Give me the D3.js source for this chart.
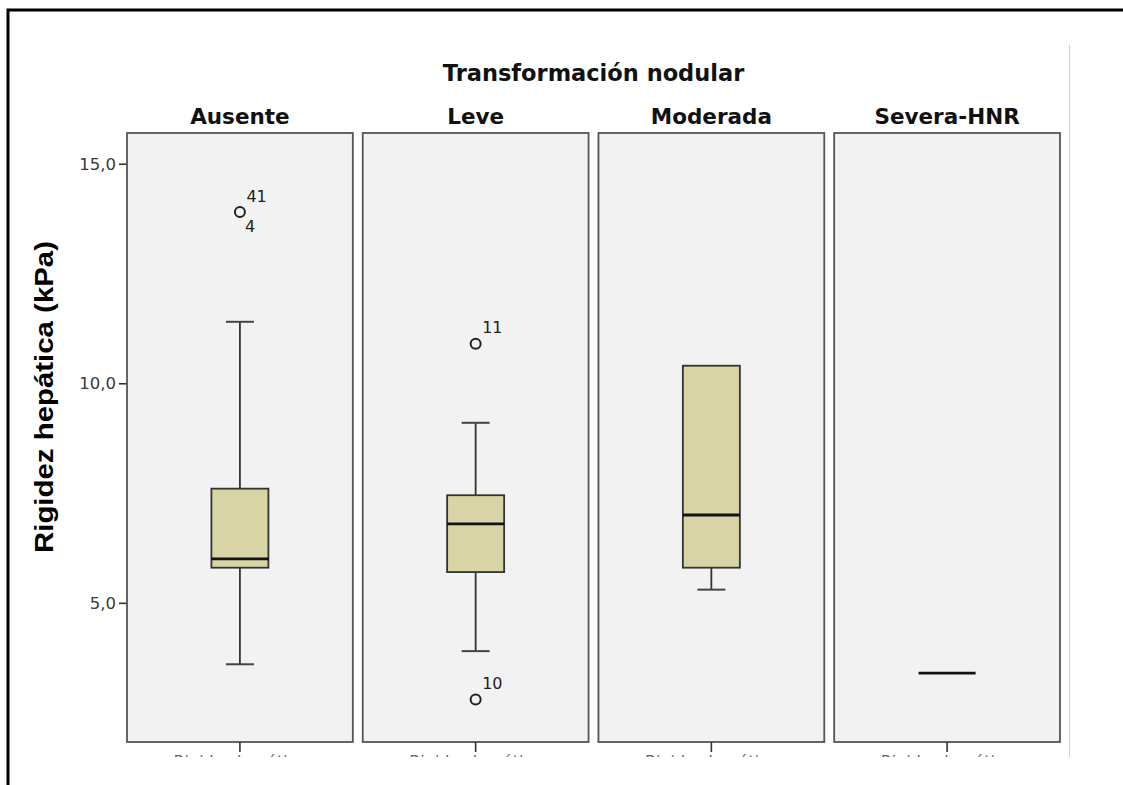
<!DOCTYPE html>
<html>
<head>
<meta charset="utf-8">
<script src="https://cdn.jsdelivr.net/npm/d3@7"></script>
<style>
  html, body { margin: 0; padding: 0; background: #fff; }
  svg { display: block; }
</style>
</head>
<body>
<svg id="chart" width="1123" height="785"></svg>
<script>
// Liver stiffness by degree of nodular transformation
const categories = ["Ausente", "Leve", "Moderada", "Severa-HNR"];
const whiskerLow  = [3.6, 3.9, 5.3, 3.4];
const q1          = [5.8, 5.7, 5.8, 3.4];
const median      = [6.0, 6.8, 7.0, 3.4];
const q3          = [7.6, 7.45, 10.4, 3.4];
const whiskerHigh = [11.4, 9.1, 10.4, 3.4];
// outliers: panel, value, case labels
const outlierPanel = ["Ausente", "Leve", "Leve"];
const outlierValue = [13.9, 10.9, 2.8];
const outlierLabelAbove = ["41", "11", "10"];
const outlierLabelBelow = ["4", "", ""];
const yTicks = [5, 10, 15];

const svg = d3.select("#chart");
const W = 1123, H = 785;

const panelTop = 133, panelBottom = 742;
const x = d3.scaleBand().domain(categories).range([127, 1060]).paddingInner(0.042);
const y = d3.scaleLinear().domain([1.83, 15.7]).range([panelBottom, panelTop]);
const fmt = v => d3.format(".1f")(v).replace(".", ",");

// outer frame
svg.append("path")
  .attr("d", `M8,${H} L8,10 L${W},10`)
  .attr("fill", "none").attr("stroke", "#000").attr("stroke-width", 3);

// thin separator on the right
svg.append("line")
  .attr("x1", 1069.5).attr("x2", 1069.5).attr("y1", 45).attr("y2", 757)
  .attr("stroke", "#cfcfcf").attr("stroke-width", 1);

// chart title
svg.append("text")
  .attr("x", (x.range()[0] + x.range()[1]) / 2).attr("y", 81)
  .attr("text-anchor", "middle")
  .attr("font-family", "DejaVu Sans").attr("font-weight", "bold").attr("font-size", 22.5)
  .attr("fill", "#111")
  .text("Transformación nodular");

// y axis title
svg.append("text")
  .attr("transform", `translate(53,397) rotate(-90)`)
  .attr("text-anchor", "middle")
  .attr("font-family", "Liberation Sans, Arial").attr("font-weight", "bold").attr("font-size", 25)
  .attr("textLength", 312).attr("lengthAdjust", "spacingAndGlyphs")
  .attr("fill", "#000")
  .text("Rigidez hepática (kPa)");

// y axis (ticks on the left panel)
const yAxis = svg.append("g")
  .attr("transform", `translate(${x.range()[0]},0)`)
  .call(d3.axisLeft(y).tickValues(yTicks).tickFormat(fmt).tickSize(8).tickPadding(3));
yAxis.select(".domain").remove();
yAxis.selectAll(".tick line").attr("stroke", "#333").attr("stroke-width", 1.6);
yAxis.selectAll(".tick text")
  .attr("font-family", "DejaVu Sans").attr("font-size", 16.5).attr("fill", "#3a3a3a");

// clip region for the truncated category labels beneath panels
svg.append("defs").append("clipPath").attr("id", "bottomClip")
  .append("rect").attr("x", 0).attr("y", 743).attr("width", W).attr("height", 14);

const bw = x.bandwidth();
const boxW = 57, capW = 28;

categories.forEach((c, i) => {
  const x0 = x(c), cx = x0 + bw / 2;
  const g = svg.append("g");

  // panel title
  g.append("text")
    .attr("x", cx).attr("y", 124)
    .attr("text-anchor", "middle")
    .attr("font-family", "DejaVu Sans").attr("font-weight", "bold").attr("font-size", 21.5)
    .attr("fill", "#111")
    .text(c);

  // panel background
  g.append("rect")
    .attr("x", x0).attr("y", panelTop).attr("width", bw).attr("height", panelBottom - panelTop)
    .attr("fill", "#f2f2f2").attr("stroke", "#555").attr("stroke-width", 1.8);

  // bottom tick and clipped category label
  g.append("line")
    .attr("x1", cx).attr("x2", cx).attr("y1", panelBottom).attr("y2", 752)
    .attr("stroke", "#333").attr("stroke-width", 1.6);
  g.append("text")
    .attr("clip-path", "url(#bottomClip)")
    .attr("x", cx).attr("y", 767)
    .attr("text-anchor", "middle")
    .attr("font-family", "DejaVu Sans").attr("font-size", 16).attr("fill", "#666")
    .text("Rigidez hepática");

  const same = q1[i] === q3[i] && whiskerLow[i] === whiskerHigh[i];
  if (same) {
    g.append("line")
      .attr("x1", cx - boxW / 2).attr("x2", cx + boxW / 2)
      .attr("y1", y(median[i])).attr("y2", y(median[i]))
      .attr("stroke", "#111").attr("stroke-width", 2.8);
    return;
  }

  // whiskers
  [[whiskerHigh[i], q3[i]], [whiskerLow[i], q1[i]]].forEach(([w, q]) => {
    if (w === q) return;
    g.append("line")
      .attr("x1", cx).attr("x2", cx).attr("y1", y(w)).attr("y2", y(q))
      .attr("stroke", "#333").attr("stroke-width", 1.8);
    g.append("line")
      .attr("x1", cx - capW / 2).attr("x2", cx + capW / 2).attr("y1", y(w)).attr("y2", y(w))
      .attr("stroke", "#444").attr("stroke-width", 2);
  });

  // box
  g.append("rect")
    .attr("x", cx - boxW / 2).attr("y", y(q3[i]))
    .attr("width", boxW).attr("height", y(q1[i]) - y(q3[i]))
    .attr("fill", "#d9d4a6").attr("stroke", "#333").attr("stroke-width", 1.8);

  // median
  g.append("line")
    .attr("x1", cx - boxW / 2).attr("x2", cx + boxW / 2)
    .attr("y1", y(median[i])).attr("y2", y(median[i]))
    .attr("stroke", "#111").attr("stroke-width", 2.8);
});

// outliers with case labels
outlierPanel.forEach((p, i) => {
  const cx = x(p) + bw / 2, cy = y(outlierValue[i]);
  svg.append("circle")
    .attr("cx", cx).attr("cy", cy).attr("r", 5)
    .attr("fill", "none").attr("stroke", "#222").attr("stroke-width", 2);
  svg.append("text")
    .attr("x", cx + 6.5).attr("y", cy - 10.5)
    .attr("font-family", "DejaVu Sans").attr("font-size", 16).attr("fill", "#222")
    .text(outlierLabelAbove[i]);
  if (outlierLabelBelow[i]) {
    svg.append("text")
      .attr("x", cx + 5).attr("y", cy + 19.5)
      .attr("font-family", "DejaVu Sans").attr("font-size", 16).attr("fill", "#222")
      .text(outlierLabelBelow[i]);
  }
});
</script>
</body>
</html>
